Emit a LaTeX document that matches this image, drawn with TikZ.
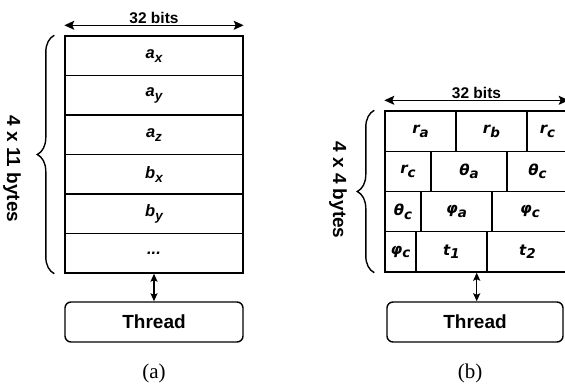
\documentclass[tikz,border=0pt]{standalone}
\usepackage{fontspec}
\setmainfont{Liberation Serif}
\setsansfont{Liberation Sans}
\newfontfamily\grkfont{DejaVu Sans}
\usetikzlibrary{arrows.meta,decorations.pathreplacing,positioning}
\newcommand{\vsub}[2]{#1\raisebox{-.45ex}{\fontsize{13.5}{13.5}\selectfont #2}}
\newcommand{\moredots}{...}

\tikzset{
  rowbox/.style={draw, line width=1.4pt, minimum width=178pt, minimum height=39.5pt, inner sep=0pt,
    font=\fontsize{16.5}{16.5}\selectfont\sffamily\bfseries\itshape},
  cellbox/.style={draw, line width=1.4pt, minimum height=40.25pt, inner sep=0pt,
    font=\fontsize{15}{15}\selectfont\grkfont\bfseries\itshape},
  thread/.style={draw, line width=1.4pt, rounded corners=6pt, minimum width=178pt, minimum height=40pt,
    font=\fontsize{19}{19}\selectfont\sffamily\bfseries},
  bitslab/.style={font=\fontsize{15.5}{15.5}\selectfont\sffamily\bfseries, inner sep=1pt},
  sizelab/.style={rotate=-90, font=\fontsize{19}{19}\selectfont\sffamily\bfseries},
  caplab/.style={font=\fontsize{21}{21}\selectfont},
  widearrow/.style={{Stealth[length=10pt,width=9pt,inset=2pt]}-{Stealth[length=10pt,width=9pt,inset=2pt]}},
  linkarrow/.style={{Stealth[length=8pt,width=7pt,inset=1.5pt]}-{Stealth[length=8pt,width=7pt,inset=1.5pt]}}
}

\begin{document}
\begin{tikzpicture}[x=1pt, y=-1pt, line width=1.4pt]
	\useasboundingbox (0,0) rectangle (565,387);
	%%(a) rows drawn with a loop
	\foreach \lab [count=\i from 0] in {{\vsub{a}{x}},{\vsub{a}{y}},{\vsub{a}{z}},{\vsub{b}{x}},{\vsub{b}{y}},{\moredots}}{
		\node[rowbox] (r\i) at (154,55.75+39.5*\i) {\lab};
		}
	\draw[widearrow] ([yshift=10pt]r0.north west) -- node[bitslab, above] (bitsA) {32 bits} ([yshift=10pt]r0.north east);
	\draw[decorate, decoration={brace, amplitude=17pt}] ([xshift=-10pt]r5.south west) -- ([xshift=-10pt]r0.north west);
	\node[sizelab] (sizeA) at (12,169) {4 x 11 bytes};
	\node[thread] (thA) at (154,322) {Thread};
	\draw[linkarrow] (r5.south) -- (thA.north);
	\node[caplab] (capA) at (154,373) {(a)};

	%%(b) cells: left edge / right edge / label / name / row
	\foreach \xa/\xb/\lab/\nm/\row in {
		385/456/{\vsub{r}{a}}/ra/0, 456/527/{\vsub{r}{b}}/rb/0, 527/568/{\vsub{r}{c}}/rc/0,
		385/431/{\vsub{r}{c}}/rcc/1, 431/507/{\vsub{θ}{a}}/tha/1, 507/568/{\vsub{θ}{c}}/thc/1,
		385/421/{\vsub{θ}{c}}/thcc/2, 421/492/{\vsub{φ}{a}}/pha/2, 492/568/{\vsub{φ}{c}}/phc/2,
		385/416/{\vsub{φ}{c}}/phcc/3, 416/487/{\vsub{t}{1}}/t1/3, 487/568/{\vsub{t}{2}}/t2/3}{
		\pgfmathsetmacro\w{\xb-\xa}
		\node[cellbox, minimum width=\w pt] (\nm) at ({(\xa+\xb)/2},131.125+40.25*\row) {\lab};
		}
	\draw[widearrow] ([yshift=10pt]ra.north west) -- node[bitslab, above] (bitsB) {32 bits} ([yshift=10pt]rc.north east);
	\draw[decorate, decoration={brace, amplitude=17pt}] ([xshift=-10pt]phcc.south west) -- ([xshift=-10pt]ra.north west);
	\node[sizelab] (sizeB) at (338,190) {4 x 4 bytes};
	\node[thread, minimum width=176pt] (thB) at (475,322) {Thread};
	\coordinate (armB) at ([xshift=-11pt]t1.south east);
	\draw[linkarrow] (armB) -- (armB |- thB.north);
	\node[caplab] (capB) at (470,373) {(b)};
\end{tikzpicture}
\end{document}
